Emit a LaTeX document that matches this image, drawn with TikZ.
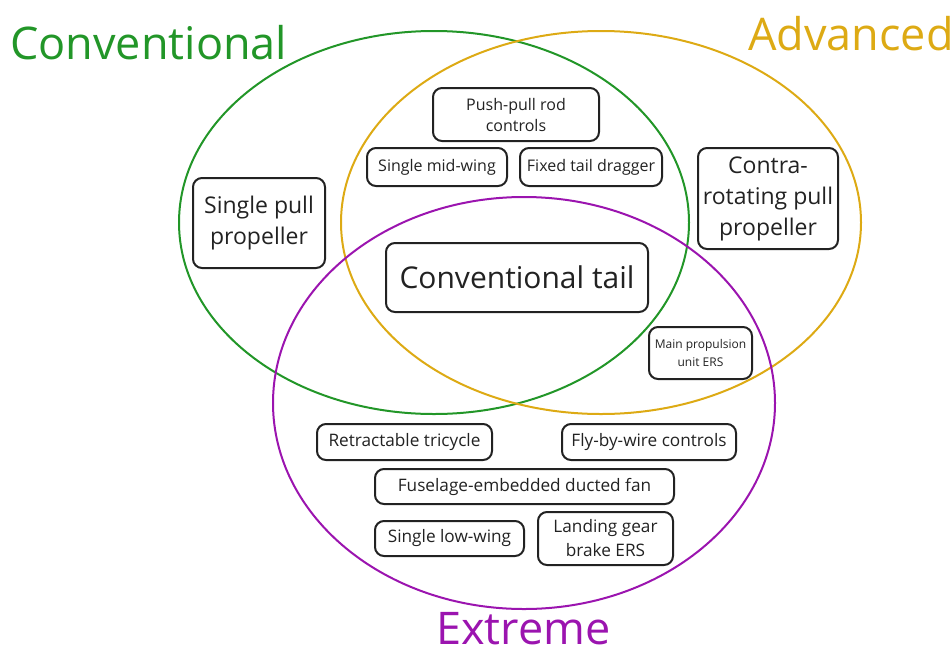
\documentclass[tikz,border=0pt]{standalone}
\usepackage{fontspec}
\setmainfont{Open Sans}
\definecolor{cgreen}{RGB}{34,150,40}
\definecolor{cgold}{RGB}{221,170,20}
\definecolor{cpurple}{RGB}{155,20,175}
\definecolor{ink}{RGB}{34,34,34}
\begin{document}
\begin{tikzpicture}[x=1pt,y=-1pt,
  setline/.style={line width=2pt},
  box/.style={draw=ink, line width=2pt, rounded corners=9pt, inner sep=0pt,
    align=center, text=ink},
  biglabel/.style={font=\fontsize{45}{54}\selectfont, inner sep=0pt}
]
\useasboundingbox (0,0) rectangle (952,648);
% sets
\draw[setline, cgreen] (434,222.5) ellipse [x radius=255pt, y radius=191.5pt];
\draw[setline, cgold] (601,222.5) ellipse [x radius=260pt, y radius=191.5pt];
\draw[setline, cpurple] (524,403) ellipse [x radius=251pt, y radius=206pt];
% set labels
\node[biglabel, text=cgreen, anchor=base west] (lconv) at (10,59) {Conventional};
\node[biglabel, text=cgold, anchor=base west] (ladv) at (748,50) {Advanced};
\node[biglabel, text=cpurple, anchor=base] (lext) at (523.5,644) {Extreme};
% boxes
\node[box, minimum width=166pt, minimum height=53pt, font=\fontsize{16}{21}\selectfont] (pushpull) at (516,114.5) {Push-pull rod\\controls};
\node[box, minimum width=140pt, minimum height=38pt, font=\fontsize{16}{21}\selectfont] (midwing) at (437,167) {Single mid-wing};
\node[box, minimum width=142pt, minimum height=38pt, font=\fontsize{16}{21}\selectfont] (taildragger) at (591,167) {Fixed tail dragger};
\node[box, minimum width=140pt, minimum height=101pt, font=\fontsize{23}{31}\selectfont] (contra) at (768,198.5) {Contra-\\rotating pull\\propeller};
\node[box, minimum width=132pt, minimum height=90pt, font=\fontsize{23}{31}\selectfont] (singlepull) at (259,223) {Single pull\\propeller};
\node[box, minimum width=262pt, minimum height=69pt, font=\fontsize{30}{40}\selectfont] (convtail) at (517,277.5) {Conventional tail};
\node[box, minimum width=103pt, minimum height=52pt, font=\fontsize{12}{17.5}\selectfont] (mainprop) at (700.5,353) {Main propulsion\\unit ERS};
\node[box, minimum width=175pt, minimum height=36pt, font=\fontsize{17.2}{23}\selectfont] (retract) at (404.5,442) {Retractable tricycle};
\node[box, minimum width=174pt, minimum height=36pt, font=\fontsize{17.2}{23}\selectfont] (fbw) at (649,442) {Fly-by-wire controls};
\node[box, minimum width=299pt, minimum height=35pt, font=\fontsize{17.2}{23}\selectfont] (fuselage) at (524.5,486.5) {Fuselage-embedded ducted fan};
\node[box, minimum width=149pt, minimum height=35pt, font=\fontsize{17.2}{23}\selectfont] (lowwing) at (449.5,538.5) {Single low-wing};
\node[box, minimum width=135pt, minimum height=53pt, font=\fontsize{17.2}{24}\selectfont] (landing) at (605.5,538.5) {Landing gear\\brake ERS};
\end{tikzpicture}
\end{document}
